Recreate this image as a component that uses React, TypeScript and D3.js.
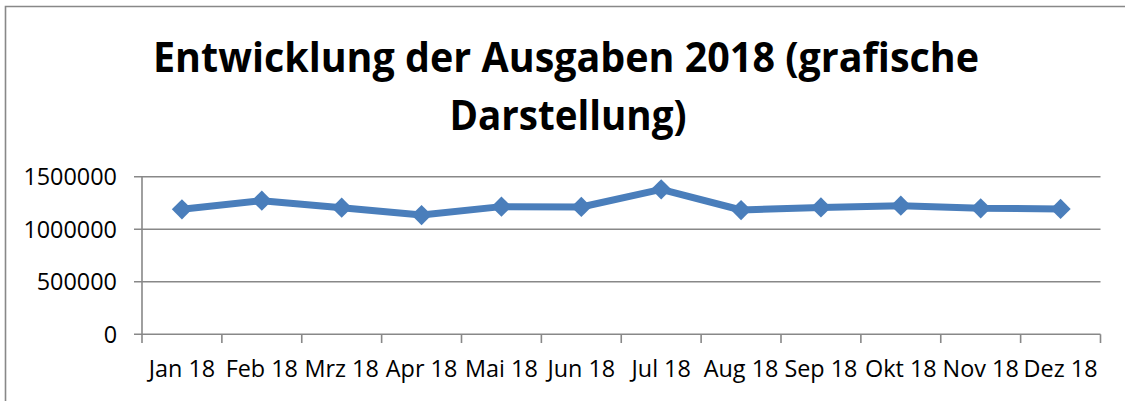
import React from "react";
import * as d3 from "d3";

const months: string[] = ["Jan 18", "Feb 18", "Mrz 18", "Apr 18", "Mai 18", "Jun 18", "Jul 18", "Aug 18", "Sep 18", "Okt 18", "Nov 18", "Dez 18"];
const ausgaben: number[] = [1190000, 1272000, 1205000, 1135000, 1215000, 1212000, 1380000, 1183000, 1208000, 1224000, 1199000, 1193000];
const yTicks: number[] = [0, 500000, 1000000, 1500000];
const titleLines: string[] = ["Entwicklung der Ausgaben 2018 (grafische", "Darstellung)"];

const W = 1125;
const H = 401;
const plot = { left: 142, right: 1100.5, top: 176.7, bottom: 334.3 };
const gridColor = "#888888";
const lineColor = "#4A7EBB";
const font = "'Open Sans', 'Noto Sans', sans-serif";

export default function App() {
  const x = d3.scaleBand<string>().domain(months).range([plot.left, plot.right]).paddingInner(0).paddingOuter(0);
  const y = d3.scaleLinear().domain([0, 1500000]).range([plot.bottom, plot.top]);
  const cx = (m: string) => (x(m) as number) + x.bandwidth() / 2;

  const line = d3
    .line<number>()
    .x((_, i) => cx(months[i]))
    .y((v) => y(v));

  const diamond = d3.symbol().type(d3.symbolSquare).size(205)();

  const boundaries = months.map((m) => x(m) as number).concat([plot.right]);

  return (
    <svg width={W} height={H} style={{ position: "absolute", left: 0, top: 0, background: "#fff" }}>
      <rect x={0} y={0} width={W} height={H} fill="#fff" />
      {/* outer frame (partially visible) */}
      <path d={`M5.5,${H + 2} L5.5,6.5 L${W + 2},6.5`} fill="none" stroke={gridColor} strokeWidth={1.6} />

      {/* title */}
      <text x={566} y={72} textAnchor="middle" fontFamily={font} fontWeight={700} fontSize={41} textLength={826} lengthAdjust="spacingAndGlyphs" fill="#000">
        {titleLines[0]}
      </text>
      <text x={568} y={130} textAnchor="middle" fontFamily={font} fontWeight={700} fontSize={41} textLength={237} lengthAdjust="spacingAndGlyphs" fill="#000">
        {titleLines[1]}
      </text>

      {/* gridlines + y ticks */}
      {yTicks.map((t) => (
        <g key={t}>
          <line x1={134} x2={plot.right} y1={y(t)} y2={y(t)} stroke={gridColor} strokeWidth={1.6} />
          <text x={117} y={y(t)} dy="0.36em" textAnchor="end" fontFamily={font} fontSize={23.4} fill="#000">
            {t}
          </text>
        </g>
      ))}

      {/* y axis line */}
      <line x1={plot.left} x2={plot.left} y1={plot.top} y2={plot.bottom} stroke={gridColor} strokeWidth={1.6} />

      {/* x tick marks */}
      {boundaries.map((b, i) => (
        <line key={i} x1={b} x2={b} y1={plot.bottom} y2={343} stroke={gridColor} strokeWidth={1.6} />
      ))}

      {/* x labels */}
      {months.map((m) => (
        <text key={m} x={cx(m)} y={377} textAnchor="middle" fontFamily={font} fontSize={23.4} fill="#000">
          {m}
        </text>
      ))}

      {/* series */}
      <path d={line(ausgaben) ?? ""} fill="none" stroke={lineColor} strokeWidth={7} strokeLinejoin="round" />
      {ausgaben.map((v, i) => (
        <path key={i} d={diamond ?? ""} transform={`translate(${cx(months[i])},${y(v)}) rotate(45)`} fill={lineColor} />
      ))}
    </svg>
  );
}
